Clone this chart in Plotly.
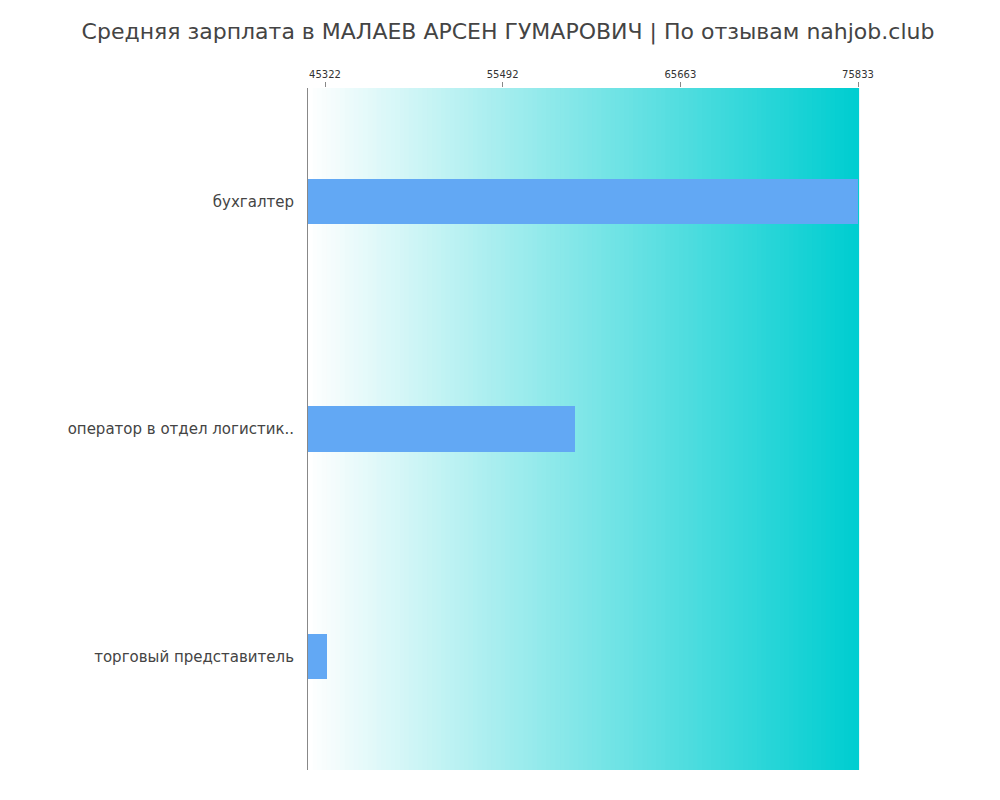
import plotly.graph_objects as go

categories = ["бухгалтер", "оператор в отдел логистик..", "торговый представитель"]
values = [75833, 59632, 45420]
tick_vals = [45322, 55492, 65663, 75833]
title = "Средняя зарплата в МАЛАЕВ АРСЕН ГУМАРОВИЧ | По отзывам nahjob.club"

fig = go.Figure(go.Bar(x=values, y=categories, orientation="h", width=0.2,
                       marker=dict(color="#62a8f4", line=dict(width=0))))

n = 120
shapes = []
for i in range(n):
    t = i / (n - 1)
    r = int(255 + (0 - 255) * t)
    g = int(255 + (206 - 255) * t)
    b = int(255 + (209 - 255) * t)
    shapes.append(dict(type="rect", xref="x domain", yref="y domain",
                       x0=i / n, x1=(i + 1) / n + 0.002, y0=0, y1=1,
                       fillcolor=f"rgb({r},{g},{b})", line=dict(width=0), layer="below"))

fig.update_layout(
    width=1000, height=800, plot_bgcolor="white", paper_bgcolor="white",
    margin=dict(l=300, r=150, t=80, b=38),
    shapes=shapes, showlegend=False,
    title=dict(text=title, x=0.5, xanchor="center", y=0.98, yanchor="top",
               font=dict(family="DejaVu Sans", size=22, color="#444444")),
    font=dict(family="DejaVu Sans", color="#444444"),
    bargap=0,
)
fig.update_xaxes(side="top", range=[44349, 75833], tickvals=tick_vals,
                 ticktext=[str(v) for v in tick_vals], tickfont=dict(size=10, color="#333"),
                 ticks="outside", ticklen=5, tickcolor="#888", showgrid=False, zeroline=False,
                 showline=False)
fig.update_yaxes(autorange=False, range=[2.5, -0.5], tickfont=dict(size=15, color="#444"),
                 showline=True, linecolor="#888", showgrid=False, ticks="", ticklabelstandoff=10)
fig.write_html("out.html")
